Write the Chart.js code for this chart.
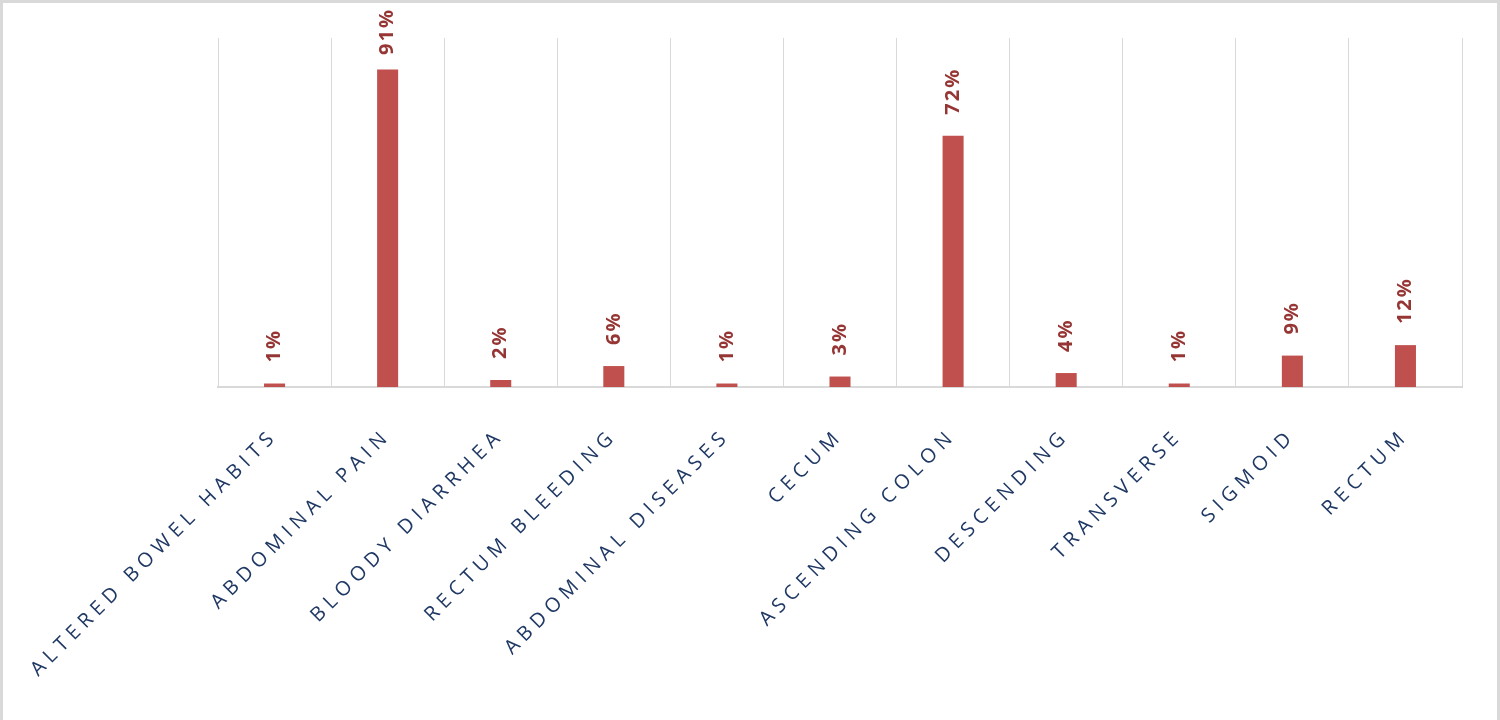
<!DOCTYPE html>
<html>
<head>
<meta charset="utf-8">
<script src="https://cdn.jsdelivr.net/npm/chart.js@4/dist/chart.umd.min.js"></script>
<style>
  html, body { margin: 0; padding: 0; background: #ffffff; }
  #frame {
    position: absolute; left: 0; top: 0;
    width: 1500px; height: 720px; box-sizing: border-box;
    border: 3px solid #d9d9d9; border-bottom: none;
    background: #ffffff;
  }
  #wrap { position: relative; width: 1494px; height: 717px; }
</style>
</head>
<body>
<div id="frame"><div id="wrap"><canvas id="c"></canvas></div></div>
<script>
const categories = [
  'ALTERED BOWEL HABITS', 'ABDOMINAL PAIN', 'BLOODY DIARRHEA', 'RECTUM BLEEDING',
  'ABDOMINAL DISEASES', 'CECUM', 'ASCENDING COLON', 'DESCENDING',
  'TRANSVERSE', 'SIGMOID', 'RECTUM'
];
const percentValues = [1, 91, 2, 6, 1, 3, 72, 4, 1, 9, 12];

const labelSpacing = {
  id: 'labelSpacing',
  beforeLayout(chart) { chart.ctx.letterSpacing = '5.5px'; },
  beforeDraw(chart) { chart.ctx.letterSpacing = '5.5px'; }
};

const barValueLabels = {
  id: 'barValueLabels',
  afterDatasetsDraw(chart) {
    const ctx = chart.ctx;
    const meta = chart.getDatasetMeta(0);
    const data = chart.data.datasets[0].data;
    ctx.save();
    ctx.letterSpacing = '2px';
    ctx.font = 'bold 20px "Open Sans"';
    ctx.fillStyle = '#963634';
    ctx.textAlign = 'left';
    ctx.textBaseline = 'middle';
    meta.data.forEach((bar, i) => {
      const txt = data[i] + '%';
      const w = ctx.measureText(txt).width;
      const start = Math.max(bar.y - 21, 5 + w);
      ctx.save();
      ctx.translate(bar.x, start);
      ctx.rotate(-Math.PI / 2);
      ctx.fillText(txt, 0, 0);
      ctx.restore();
    });
    ctx.restore();
  }
};

new Chart(document.getElementById('c'), {
  type: 'bar',
  data: {
    labels: categories,
    datasets: [{
      data: percentValues,
      backgroundColor: '#C0504D',
      borderWidth: 0,
      barPercentage: 0.186,
      categoryPercentage: 1.0
    }]
  },
  options: {
    responsive: true,
    maintainAspectRatio: false,
    animation: false,
    layout: { padding: { left: 0, right: 35, top: 35, bottom: 0 } },
    plugins: { legend: { display: false }, tooltip: { enabled: false } },
    scales: {
      x: {
        grid: { display: true, color: '#d9d9d9', lineWidth: 1, drawTicks: false, offset: true },
        border: { display: true, color: '#d9d9d9', width: 2 },
        ticks: {
          color: '#1F3864',
          font: { family: '"Open Sans"', size: 20 },
          minRotation: 45,
          maxRotation: 45,
          padding: 37,
          autoSkip: false
        },
        afterFit(scale) {
          scale.height = 333;
          scale.paddingLeft = 0;
          scale.paddingRight = 0;
        }
      },
      y: {
        min: 0,
        max: 100,
        grid: { display: false },
        border: { display: false },
        ticks: { display: false },
        afterFit(scale) { scale.width = 215; }
      }
    }
  },
  plugins: [labelSpacing, barValueLabels]
});
</script>
</body>
</html>
